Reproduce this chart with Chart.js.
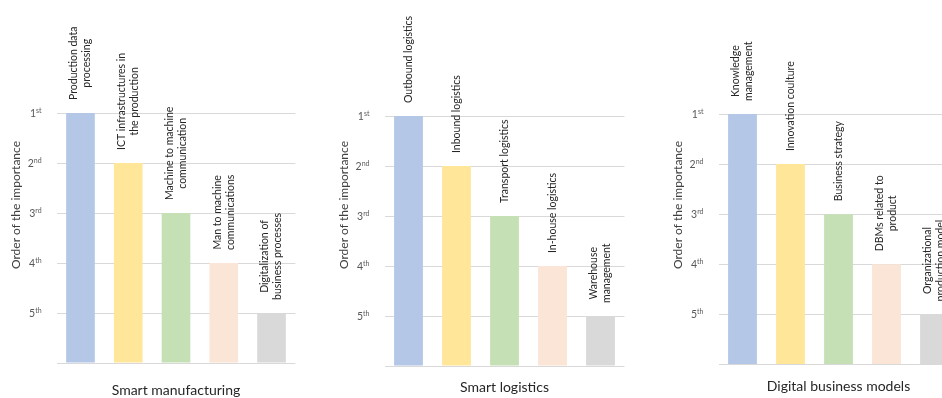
<!DOCTYPE html>
<html>
<head>
<meta charset="utf-8">
<script src="https://cdn.jsdelivr.net/npm/chart.js@4.4.1/dist/chart.umd.min.js"></script>
<style>
  html, body { margin: 0; padding: 0; background: #fff; }
  body { width: 942px; height: 398px; overflow: hidden; position: relative; }
  .panel { position: absolute; top: 0; height: 398px; }
  .panel canvas { display: block; }
</style>
</head>
<body>
<div class="panel" id="p1" style="left:0;width:320px"><canvas id="c1"></canvas></div>
<div class="panel" id="p2" style="left:320px;width:320px"><canvas id="c2"></canvas></div>
<div class="panel" id="p3" style="left:640px;width:340px"><canvas id="c3"></canvas></div>
<script>
// ---- data ----
const manufacturingLabels = [
    ["Production data", "processing"],
    ["ICT infrastructures in", "the production"],
    ["Machine to machine", "communication"],
    ["Man to machine", "communications"],
    ["Digitalization of", "business processes"]
];
const logisticsLabels = [
    ["Outbound logistics"],
    ["Inbound logistics"],
    ["Transport logistics"],
    ["In-house logistics"],
    ["Warehouse", "management"]
];
const businessLabels = [
    ["Knowledge", "management"],
    ["Innovation coulture"],
    ["Business strategy"],
    ["DBMs related to", "product"],
    ["Organizational", "production model"]
];

// bar height = 6 - rank (1st is tallest)
const manufacturingValues = [5, 4, 3, 2, 1];
const logisticsValues = [5, 4, 3, 2, 1];
const businessValues = [5, 4, 3, 2, 1];

const rankNumbers = ["1", "2", "3", "4", "5"];
const rankSuffixes = ["st", "nd", "rd", "th", "th"];

const barColors = ["#b4c7e7", "#ffe699", "#c5e0b4", "#fbe5d6", "#d9d9d9"];
const FONT = "Lato, 'Open Sans', sans-serif";

/* draws rotated bar labels, ordinal ticks and both axis titles */
const panelText = {
    id: "panelText",
    afterDraw(chart, args, opts) {
        const ctx = chart.ctx;
        const a = chart.chartArea;
        const y = chart.scales.y;
        ctx.save();

        // bar labels, reading bottom to top
        const meta = chart.getDatasetMeta(0);
        ctx.fillStyle = "#262626";
        ctx.font = `10.5px ${FONT}`;
        ctx.textAlign = "center";
        ctx.textBaseline = "middle";
        meta.data.forEach((bar, i) => {
            const lines = opts.barLabels[i];
            const maxW = Math.max(...lines.map(l => ctx.measureText(l).width));
            ctx.save();
            ctx.translate(bar.x, bar.y - 13);
            ctx.rotate(-Math.PI / 2);
            lines.forEach((l, j) => {
                const off = (j - (lines.length - 1) / 2) * 13;
                ctx.fillText(l, maxW / 2, off);
            });
            ctx.restore();
        });

        // ordinal tick labels
        ctx.fillStyle = "#595959";
        ctx.textAlign = "right";
        rankNumbers.forEach((n, i) => {
            const py = y.getPixelForValue(5 - i);
            const right = a.left - 15;
            ctx.font = `7px ${FONT}`;
            ctx.textBaseline = "alphabetic";
            const sw = ctx.measureText(rankSuffixes[i]).width;
            ctx.fillText(rankSuffixes[i], right, py);
            ctx.font = `10.5px ${FONT}`;
            ctx.fillText(n, right - sw, py + 4);
        });

        // y title
        ctx.fillStyle = "#404040";
        ctx.font = `12px ${FONT}`;
        ctx.textAlign = "center";
        ctx.textBaseline = "middle";
        ctx.save();
        ctx.translate(a.left - 40, 205);
        ctx.rotate(-Math.PI / 2);
        ctx.fillText("Order of the importance", 0, 0);
        ctx.restore();

        // x title
        ctx.fillStyle = "#262626";
        ctx.font = `14px ${FONT}`;
        ctx.fillText(opts.title, (a.left + a.right) / 2, opts.titleY);

        ctx.restore();
    }
};

function makePanel(id, labels, values, title, pad, titleY) {
    return new Chart(document.getElementById(id), {
        type: "bar",
        data: {
            labels: labels.map(l => l.join(" ")),
            datasets: [{
                data: values,
                backgroundColor: barColors,
                borderWidth: 0,
                barPercentage: 0.6,
                categoryPercentage: 1
            }]
        },
        options: {
            responsive: true,
            maintainAspectRatio: false,
            animation: false,
            layout: { padding: pad },
            plugins: {
                legend: { display: false },
                tooltip: { enabled: false },
                panelText: { barLabels: labels, title: title, titleY: titleY }
            },
            scales: {
                x: { display: false },
                y: {
                    min: 0,
                    max: 5,
                    ticks: { display: false, stepSize: 1 },
                    grid: { color: "#d9d9d9", drawTicks: false },
                    border: { display: false }
                }
            }
        },
        plugins: [panelText]
    });
}

makePanel("c1", manufacturingLabels, manufacturingValues, "Smart manufacturing",
    { left: 56.6, right: 24.6, top: 113, bottom: 35 }, 390);
makePanel("c2", logisticsLabels, logisticsValues, "Smart logistics",
    { left: 64.5, right: 15.5, top: 116, bottom: 32 }, 387);
makePanel("c3", businessLabels, businessValues, "Digital business models",
    { left: 78.5, right: 21.5, top: 114, bottom: 33.5 }, 386);
</script>
</body>
</html>
